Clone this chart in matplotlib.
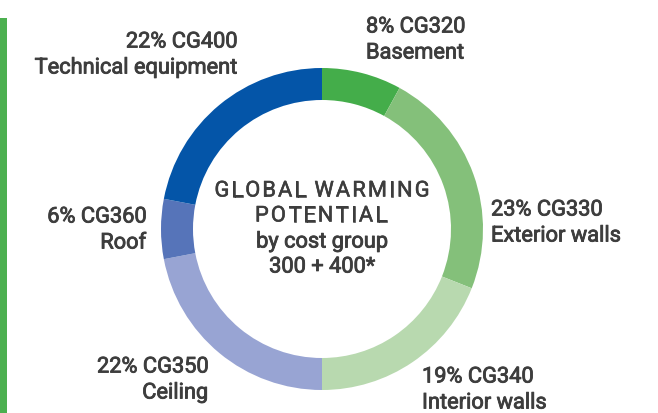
import matplotlib
matplotlib.use('Agg')
import matplotlib.pyplot as plt
import matplotlib.patheffects as pe

plt.rcParams['font.family'] = ['Roboto', 'DejaVu Sans']

# -------------------- Data --------------------
groups = ['CG320', 'CG330', 'CG340', 'CG350', 'CG360', 'CG400']
names = ['Basement', 'Exterior walls', 'Interior walls', 'Ceiling', 'Roof', 'Technical equipment']
shares = [8, 23, 19, 22, 6, 22]
colors = ['#44ad4a', '#84c07a', '#b8d9af', '#98a4d3', '#5674b9', '#0455a8']

# label anchor (x, y of first line in px from top-left) and alignment
label_pos = [(366, 27, 'left'), (491, 210, 'left'), (422, 377, 'left'),
             (208, 367, 'right'), (146, 217, 'right'), (237, 42, 'right')]

W, H = 658, 413
text_col = '#3d3d3d'
# thin outline in the text colour -> medium-looking weight
medium = [pe.withStroke(linewidth=0.6, foreground=text_col)]

fig = plt.figure(figsize=(W / 100, H / 100), dpi=100)
ax = fig.add_axes([0, 0, 1, 1])

ax.pie(shares, colors=colors, startangle=90, counterclock=False,
       center=(322, H - 229), radius=161,
       wedgeprops=dict(width=32, linewidth=0))
ax.set_xlim(0, W)
ax.set_ylim(0, H)
ax.set_aspect('auto')
ax.axis('off')

# green bar on the left edge
ax.add_patch(plt.Rectangle((0, 0), 7, H - 18, color='#4cb050', lw=0))

for g, n, s, (x, y, ha) in zip(groups, names, shares, label_pos):
    ax.text(x, H - y, f'{s}% {g}', ha=ha, va='center', fontsize=15.7,
            color=text_col, path_effects=medium)
    ax.text(x, H - y - 26, n, ha=ha, va='center', fontsize=15.7,
            color=text_col, path_effects=medium)


def tracked_text(x, y, s, width, **kw):
    # place characters one by one so the word spreads over `width` px
    r = fig.canvas.get_renderer()
    parts = []
    for ch in s:
        t = ax.text(0, y, ch, ha='left', va='center', **kw)
        w = t.get_window_extent(r).width if ch != ' ' else None
        parts.append((t, w))
    space_w = kw.get('fontsize', 12) * 0.25
    widths = [w if w is not None else space_w for _, w in parts]
    gap = (width - sum(widths)) / (len(parts) - 1)
    cx = x - width / 2
    for (t, _), w in zip(parts, widths):
        t.set_x(cx)
        cx += w + gap


# centre caption
tracked_text(322, H - 191, 'GLOBAL WARMING', 215, fontsize=15.7, color=text_col,
             path_effects=[pe.withStroke(linewidth=0.4, foreground=text_col)])
tracked_text(321, H - 216, 'POTENTIAL', 132, fontsize=15.7, color=text_col,
             path_effects=[pe.withStroke(linewidth=0.4, foreground=text_col)])
ax.text(322, H - 242, 'by cost group', ha='center', va='center',
        fontsize=15.7, color=text_col, path_effects=medium)
ax.text(322, H - 267, '300 + 400*', ha='center', va='center',
        fontsize=15.7, color=text_col, path_effects=medium)

fig.savefig('out.png', dpi=100)
